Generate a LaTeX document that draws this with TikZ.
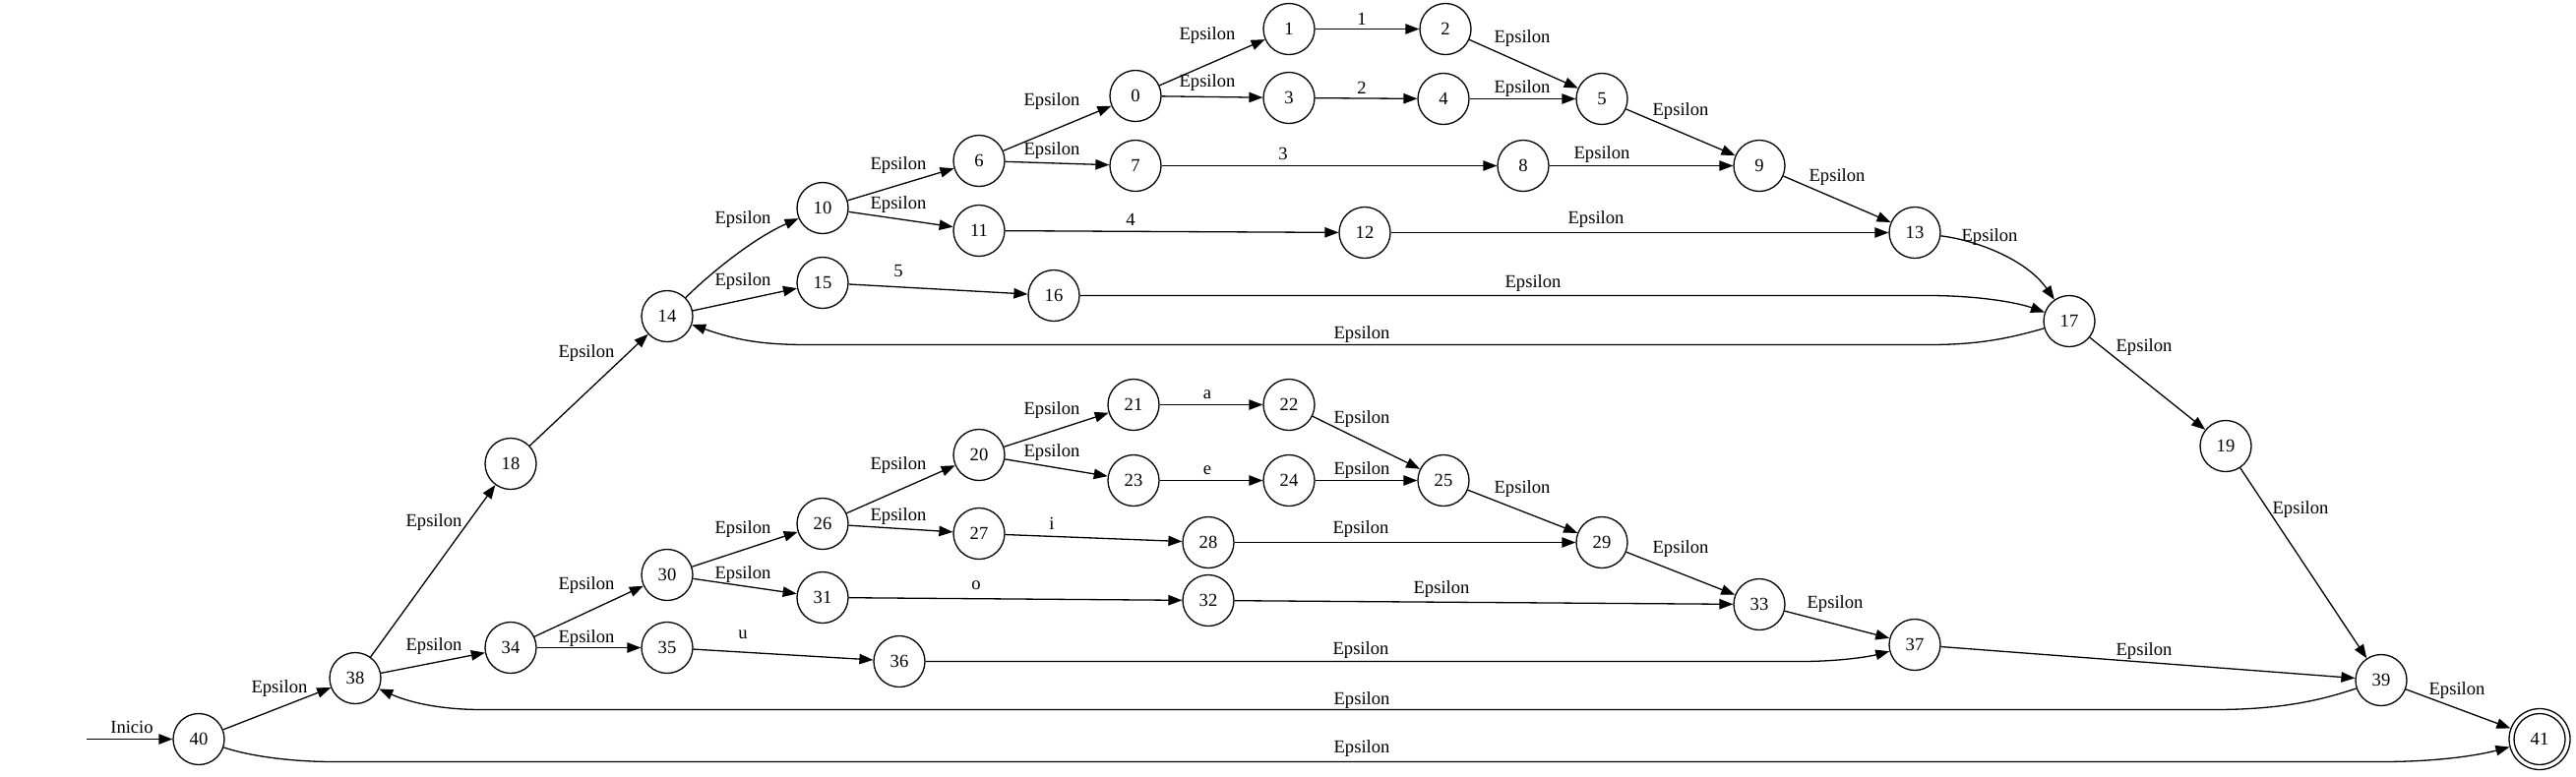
\documentclass[tikz,border=0pt]{standalone}
\usepackage{fontspec}
\setmainfont{Liberation Serif}
\usetikzlibrary{arrows.meta}
\newcommand{\lbfont}{\fontsize{9.3}{11}\selectfont}
\tikzset{
  state/.style={circle, draw, line width=0.65pt, minimum size=26pt, inner sep=0pt, font=\lbfont},
  finalstate/.style={state, minimum size=31pt},
  e/.style={-{Triangle[length=7pt,width=5.2pt]}, line width=0.65pt},
  lbl/.style={font=\lbfont, inner sep=0pt},
}
\begin{document}
\begin{tikzpicture}[x=0.5pt, y=-0.5pt]
\useasboundingbox (0,0.5) rectangle (2618,789.5);
% nodes
\node[state] (n0) at (1154,98) {0};
\node[state] (n1) at (1310,30) {1};
\node[state] (n2) at (1469,30) {2};
\node[state] (n3) at (1310,100) {3};
\node[state] (n4) at (1467,101) {4};
\node[state] (n5) at (1628,101) {5};
\node[state] (n6) at (995,164) {6};
\node[state] (n7) at (1154,169) {7};
\node[state] (n8) at (1548,169) {8};
\node[state] (n9) at (1788,169) {9};
\node[state] (n10) at (836,212) {10};
\node[state] (n11) at (995,235) {11};
\node[state] (n12) at (1387,237) {12};
\node[state] (n13) at (1946,237) {13};
\node[state] (n14) at (678,322) {14};
\node[state] (n15) at (836,288) {15};
\node[state] (n16) at (1071,301) {16};
\node[state] (n17) at (2103,327) {17};
\node[state] (n18) at (519,472) {18};
\node[state] (n19) at (2262,454) {19};
\node[state] (n20) at (995,463) {20};
\node[state] (n21) at (1152,412) {21};
\node[state] (n22) at (1310,412) {22};
\node[state] (n23) at (1152,489) {23};
\node[state] (n24) at (1310,489) {24};
\node[state] (n25) at (1467,489) {25};
\node[state] (n26) at (836,533) {26};
\node[state] (n27) at (995,543) {27};
\node[state] (n28) at (1228,552) {28};
\node[state] (n29) at (1628,552) {29};
\node[state] (n30) at (678,585) {30};
\node[state] (n31) at (836,608) {31};
\node[state] (n32) at (1228,611) {32};
\node[state] (n33) at (1788,615) {33};
\node[state] (n34) at (519,659) {34};
\node[state] (n35) at (678,659) {35};
\node[state] (n36) at (914,673) {36};
\node[state] (n37) at (1946,656) {37};
\node[state] (n38) at (361,690) {38};
\node[state] (n39) at (2420,692) {39};
\node[state] (n40) at (202,752) {40};
\node[finalstate] (n41) at (2581,752) {41};
\draw[line width=0.65pt] (n41.center) circle[radius=13pt];
\coordinate (start) at (88,752);
% edges
\draw[e] (start) -- (n40) node[lbl] at (134,740) {Inicio};
\draw[e] (n40) -- (n38) node[lbl] at (284,701) {Epsilon};
\draw[e] (n40) .. controls (250,768) and (290,775) .. (340,775) -- (2420,775) .. controls (2480,775) and (2520,768) .. (n41) node[lbl] at (1384,762) {Epsilon};
\draw[e] (n38) -- (n18) node[lbl] at (441,532) {Epsilon};
\draw[e] (n38) -- (n34) node[lbl] at (441,658) {Epsilon};
\draw[e] (n18) -- (n14) node[lbl] at (596,360) {Epsilon};
\draw[e] (n14) .. controls (720,280) and (765,243) .. (n10) node[lbl] at (755,224) {Epsilon};
\draw[e] (n14) -- (n15) node[lbl] at (755,287) {Epsilon};
\draw[e] (n10) -- (n6) node[lbl] at (913,169) {Epsilon};
\draw[e] (n10) -- (n11) node[lbl] at (913,209) {Epsilon};
\draw[e] (n6) -- (n0) node[lbl] at (1069,104) {Epsilon};
\draw[e] (n6) -- (n7) node[lbl] at (1069,154) {Epsilon};
\draw[e] (n0) -- (n1) node[lbl] at (1227,37) {Epsilon};
\draw[e] (n0) -- (n3) node[lbl] at (1227,85) {Epsilon};
\draw[e] (n1) -- (n2) node[lbl] at (1384,20) {1};
\draw[e] (n3) -- (n4) node[lbl] at (1384,90) {2};
\draw[e] (n2) -- (n5) node[lbl] at (1547,40) {Epsilon};
\draw[e] (n4) -- (n5) node[lbl] at (1547,91) {Epsilon};
\draw[e] (n5) -- (n9) node[lbl] at (1708,114) {Epsilon};
\draw[e] (n7) -- (n8) node[lbl] at (1304,157) {3};
\draw[e] (n8) -- (n9) node[lbl] at (1628,158) {Epsilon};
\draw[e] (n9) -- (n13) node[lbl] at (1867,181) {Epsilon};
\draw[e] (n11) -- (n12) node[lbl] at (1149,224) {4};
\draw[e] (n12) -- (n13) node[lbl] at (1622,224) {Epsilon};
\draw[e] (n13) .. controls (2010,245) and (2060,265) .. (n17) node[lbl] at (2022,242) {Epsilon};
\draw[e] (n15) -- (n16) node[lbl] at (913,276) {5};
\draw[e] (n16) -- (1960,301) .. controls (2010,301) and (2050,308) .. (n17) node[lbl] at (1558,289) {Epsilon};
\draw[e] (n17) .. controls (2040,345) and (2010,351) .. (1960,351) -- (820,351) .. controls (770,351) and (745,345) .. (n14) node[lbl] at (1384,341) {Epsilon};
\draw[e] (n17) -- (n19) node[lbl] at (2179,354) {Epsilon};
\draw[e] (n19) -- (n39) node[lbl] at (2338,519) {Epsilon};
\draw[e] (n34) -- (n30) node[lbl] at (596,596) {Epsilon};
\draw[e] (n34) -- (n35) node[lbl] at (596,650) {Epsilon};
\draw[e] (n30) -- (n26) node[lbl] at (755,539) {Epsilon};
\draw[e] (n30) -- (n31) node[lbl] at (755,585) {Epsilon};
\draw[e] (n26) -- (n20) node[lbl] at (913,474) {Epsilon};
\draw[e] (n26) -- (n27) node[lbl] at (913,526) {Epsilon};
\draw[e] (n20) -- (n21) node[lbl] at (1069,418) {Epsilon};
\draw[e] (n20) -- (n23) node[lbl] at (1069,461) {Epsilon};
\draw[e] (n21) -- (n22) node[lbl] at (1227,402) {a};
\draw[e] (n23) -- (n24) node[lbl] at (1227,479) {e};
\draw[e] (n22) -- (n25) node[lbl] at (1384,427) {Epsilon};
\draw[e] (n24) -- (n25) node[lbl] at (1384,479) {Epsilon};
\draw[e] (n25) -- (n29) node[lbl] at (1547,498) {Epsilon};
\draw[e] (n27) -- (n28) node[lbl] at (1069,533) {i};
\draw[e] (n28) -- (n29) node[lbl] at (1383,539) {Epsilon};
\draw[e] (n29) -- (n33) node[lbl] at (1708,559) {Epsilon};
\draw[e] (n31) -- (n32) node[lbl] at (992,596) {o};
\draw[e] (n32) -- (n33) node[lbl] at (1465,600) {Epsilon};
\draw[e] (n33) -- (n37) node[lbl] at (1865,615) {Epsilon};
\draw[e] (n35) -- (n36) node[lbl] at (755,646) {u};
\draw[e] (n36) -- (1830,673) .. controls (1870,673) and (1900,668) .. (n37) node[lbl] at (1383,662) {Epsilon};
\draw[e] (n37) -- (n39) node[lbl] at (2179,663) {Epsilon};
\draw[e] (n39) .. controls (2360,712) and (2320,722) .. (2250,722) -- (490,722) .. controls (440,722) and (410,712) .. (n38) node[lbl] at (1384,713) {Epsilon};
\draw[e] (n39) -- (n41) node[lbl] at (2497,703) {Epsilon};
\end{tikzpicture}
\end{document}
